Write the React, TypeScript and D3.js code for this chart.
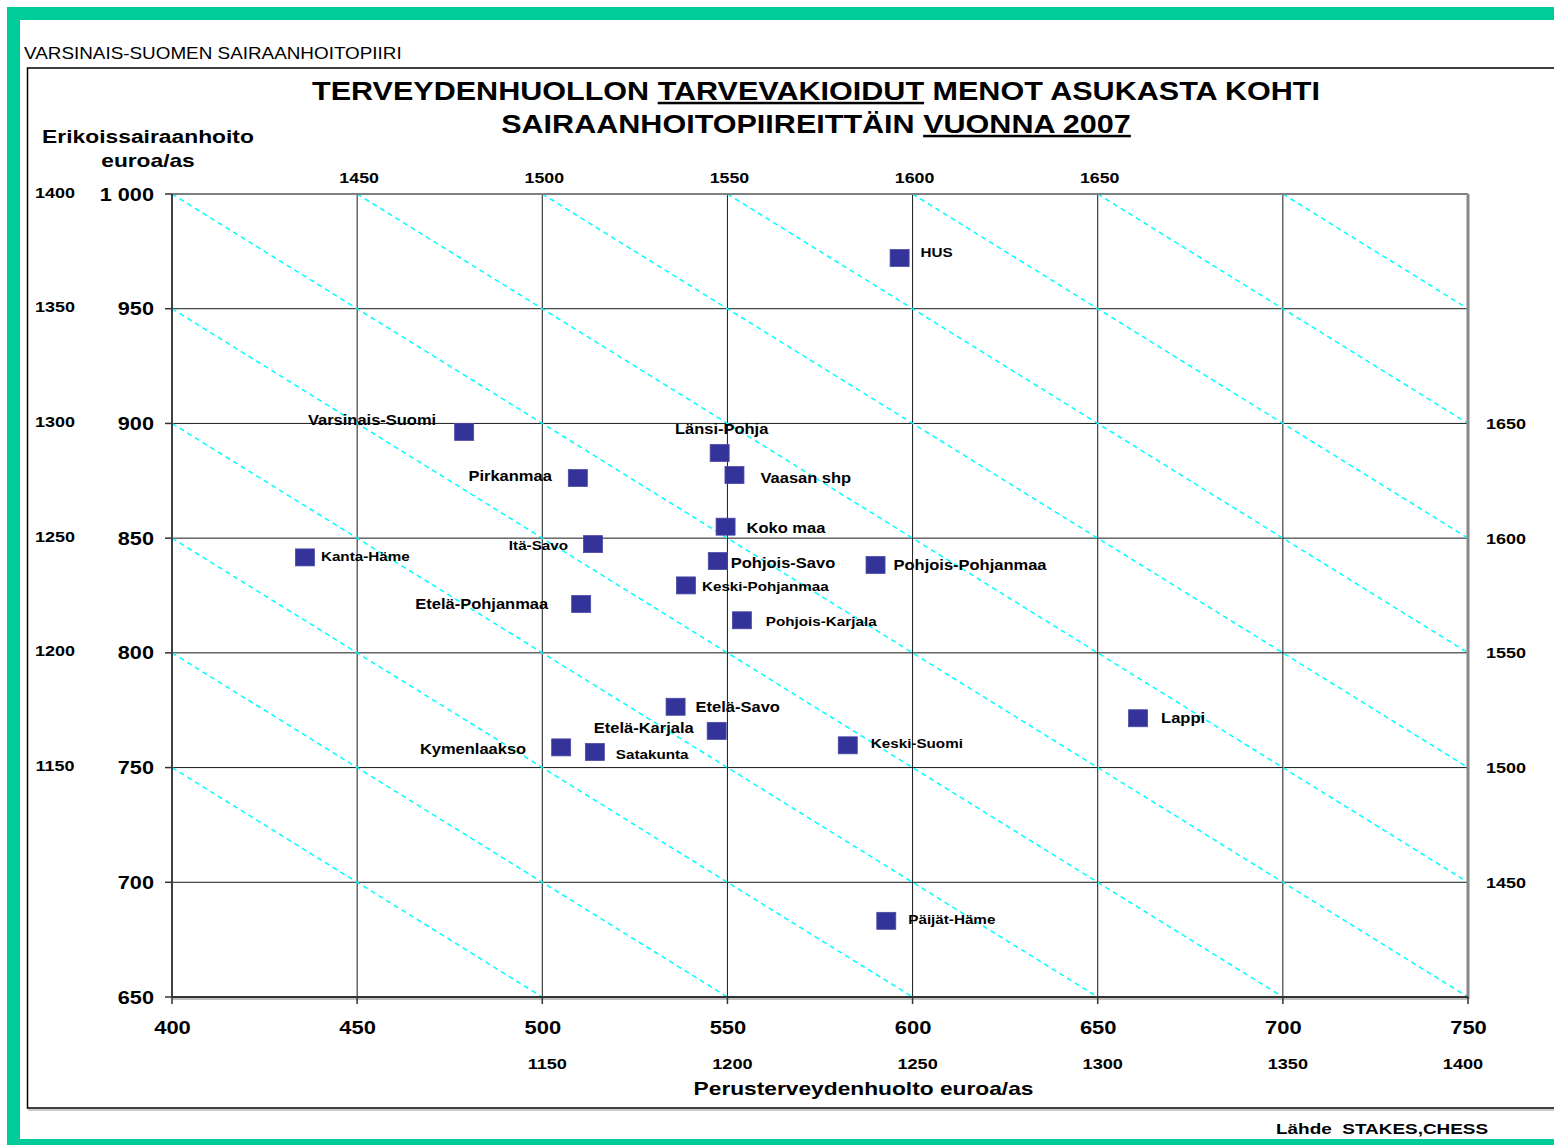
import React from 'react';
import * as d3 from 'd3';

// ---------- data ----------
const districts = [
  'HUS', 'Varsinais-Suomi', 'Länsi-Pohja', 'Pirkanmaa', 'Vaasan shp', 'Koko maa',
  'Itä-Savo', 'Kanta-Häme', 'Pohjois-Savo', 'Pohjois-Pohjanmaa', 'Keski-Pohjanmaa',
  'Etelä-Pohjanmaa', 'Pohjois-Karjala', 'Etelä-Savo', 'Lappi', 'Etelä-Karjala',
  'Keski-Suomi', 'Kymenlaakso', 'Satakunta', 'Päijät-Häme',
];
// Perusterveydenhuolto euroa/as
const perus = [
  596.5, 478.9, 547.9, 509.6, 551.9, 549.5,
  513.7, 435.9, 547.4, 590.0, 538.8,
  510.5, 553.9, 536.0, 660.9, 547.1,
  582.5, 505.1, 514.2, 592.9,
];
// Erikoissairaanhoito euroa/as
const erikois = [
  972.1, 896.3, 887.1, 876.2, 877.5, 855.0,
  847.4, 841.6, 840.0, 838.3, 829.4,
  821.3, 814.2, 776.5, 771.5, 766.0,
  759.7, 758.8, 756.8, 683.2,
];

const xTicks = [400, 450, 500, 550, 600, 650, 700, 750];
const yTicks = [650, 700, 750, 800, 850, 900, 950, 1000];
const totalLines = [1150, 1200, 1250, 1300, 1350, 1400, 1450, 1500, 1550, 1600, 1650, 1700];
const topTotalsAt = [450, 500, 550, 600, 650]; // x positions labelled along top (x + 1000)
const bottomTotalsAt = [500, 550, 600, 650, 700, 750]; // x + 650
const leftTotalsAt = [1000, 950, 900, 850, 800, 750]; // 400 + y
const rightTotalsAt = [900, 850, 800, 750, 700]; // 750 + y

// label layout (offset from marker centre)
const labelLayout = [
  { dx: 21, dy: -1, a: 'start', s: 1 },
  { dx: -28, dy: -7, a: 'end', s: 0 },
  { dx: 2, dy: -19, a: 'middle', s: 0 },
  { dx: -26, dy: 3, a: 'end', s: 0 },
  { dx: 26, dy: 8, a: 'start', s: 0 },
  { dx: 21, dy: 6, a: 'start', s: 0 },
  { dx: -25, dy: 6, a: 'end', s: 1 },
  { dx: 16, dy: 4, a: 'start', s: 1 },
  { dx: 13, dy: 7, a: 'start', s: 0 },
  { dx: 18, dy: 5, a: 'start', s: 0 },
  { dx: 16, dy: 6, a: 'start', s: 1 },
  { dx: -33, dy: 5, a: 'end', s: 0 },
  { dx: 24, dy: 6, a: 'start', s: 1 },
  { dx: 20, dy: 5, a: 'start', s: 0 },
  { dx: 23, dy: 5, a: 'start', s: 0 },
  { dx: -23, dy: 2, a: 'end', s: 0 },
  { dx: 23, dy: 3, a: 'start', s: 1 },
  { dx: -35, dy: 7, a: 'end', s: 0 },
  { dx: 21, dy: 7, a: 'start', s: 1 },
  { dx: 22, dy: 3, a: 'start', s: 1 },
];

const FONT = "'Liberation Sans', Arial, Helvetica, sans-serif";
const GREEN = '#00CC99';
const MARK = '#333399';

const L = 172, R = 1468, TOP = 194, BOT = 997;
const x = d3.scaleLinear().domain([400, 750]).range([L, R]);
const y = d3.scaleLinear().domain([650, 1000]).range([BOT, TOP]);

type TP = {
  x: number; y: number; size: number; sx?: number; anchor?: string;
  weight?: string; children: React.ReactNode; pre?: boolean;
};
const T = ({ x, y, size, sx = 1.2, anchor = 'start', weight = 'bold', children, pre }: TP) => (
  <text
    transform={`translate(${x},${y}) scale(${sx},1)`}
    fontSize={size}
    textAnchor={anchor as any}
    fontWeight={weight}
    fontFamily={FONT}
    fill="#000"
    style={pre ? { whiteSpace: 'pre' } : undefined}
  >
    {children}
  </text>
);

const fmtBig = (v: number) => (v >= 1000 ? d3.format(',')(v).replace(',', ' ') : String(v));

export default function App() {
  const diag = totalLines.map((t) => {
    const x0 = Math.max(400, t - 1000);
    const x1 = Math.min(750, t - 650);
    return { t, x0, y0: t - x0, x1, y1: t - x1 };
  });

  return (
    <svg
      width={1554}
      height={1145}
      style={{ position: 'absolute', left: 0, top: 0, background: '#fff' }}
    >
      <rect x={0} y={0} width={1554} height={1145} fill="#fff" />
      {/* green outer border */}
      <rect x={7} y={7} width={1547} height={13} fill={GREEN} />
      <rect x={7} y={7} width={13} height={1138} fill={GREEN} />
      <rect x={7} y={1139} width={1547} height={6} fill={GREEN} />

      <T x={24} y={59} size={16} sx={1.18} weight="normal">VARSINAIS-SUOMEN SAIRAANHOITOPIIRI</T>

      {/* inner frame */}
      <rect x={27.5} y={68} width={1540} height={1040} fill="none" stroke="#000" strokeWidth={1.5} />
      <line x1={28} x2={1554} y1={1110} y2={1110} stroke="#bbb" strokeWidth={1.5} />

      {/* title */}
      <T x={816} y={100} size={25} sx={1.222} anchor="middle">
        TERVEYDENHUOLLON <tspan textDecoration="underline">TARVEVAKIOIDUT</tspan> MENOT ASUKASTA KOHTI
      </T>
      <T x={816} y={133} size={25} sx={1.222} anchor="middle">
        SAIRAANHOITOPIIREITTÄIN <tspan textDecoration="underline">VUONNA 2007</tspan>
      </T>

      {/* y axis title */}
      <T x={148} y={143} size={18.5} sx={1.235} anchor="middle">Erikoissairaanhoito</T>
      <T x={148} y={167} size={18.5} sx={1.23} anchor="middle">euroa/as</T>

      {/* grid */}
      {xTicks.slice(1, -1).map((v) => (
        <line key={'gx' + v} x1={x(v)} x2={x(v)} y1={TOP} y2={BOT} stroke="#1a1a1a" strokeWidth={1} />
      ))}
      {yTicks.slice(1, -1).map((v) => (
        <line key={'gy' + v} x1={L} x2={R} y1={y(v)} y2={y(v)} stroke="#1a1a1a" strokeWidth={1} />
      ))}

      {/* iso-total diagonals */}
      {diag.map((d) => (
        <line
          key={'d' + d.t}
          x1={x(d.x0)} y1={y(d.y0)} x2={x(d.x1)} y2={y(d.y1)}
          stroke="#00FFFF" strokeWidth={1.5} strokeDasharray="5,4"
        />
      ))}

      {/* plot border & axes */}
      <line x1={L} x2={R} y1={TOP} y2={TOP} stroke="#808080" strokeWidth={2} />
      <line x1={R} x2={R} y1={TOP} y2={BOT + 2} stroke="#888" strokeWidth={3} />
      <line x1={L} x2={L} y1={TOP} y2={BOT} stroke="#404040" strokeWidth={2} />
      <line x1={L} x2={R} y1={BOT + 2} y2={BOT + 2} stroke="#aaa" strokeWidth={1.5} />
      <line x1={L} x2={R} y1={BOT} y2={BOT} stroke="#333" strokeWidth={2} />

      {/* ticks */}
      {yTicks.map((v) => (
        <line key={'ty' + v} x1={L - 7} x2={L} y1={y(v)} y2={y(v)} stroke="#333" strokeWidth={1.5} />
      ))}
      {xTicks.map((v) => (
        <line key={'tx' + v} x1={x(v)} x2={x(v)} y1={BOT} y2={BOT + 7} stroke="#333" strokeWidth={1.5} />
      ))}

      {/* main axis labels */}
      {yTicks.map((v) => (
        <T key={'ly' + v} x={154} y={y(v) + 6.5} size={17.5} sx={1.24} anchor="end">{fmtBig(v)}</T>
      ))}
      {xTicks.map((v) => (
        <T key={'lx' + v} x={x(v) + 0.5} y={1034} size={18} sx={1.22} anchor="middle">{v}</T>
      ))}

      {/* total (iso-line) labels */}
      {topTotalsAt.map((v) => (
        <T key={'tt' + v} x={x(v) + 2} y={183} size={15.2} sx={1.17} anchor="middle">{v + 1000}</T>
      ))}
      {bottomTotalsAt.map((v) => (
        <T key={'bt' + v} x={Math.min(x(v) + 5, 1463)} y={1069} size={15.5} sx={1.17} anchor="middle">{v + 650}</T>
      ))}
      {leftTotalsAt.map((v) => (
        <T key={'lt' + v} x={55} y={y(v) + 3.5} size={15.4} sx={1.17} anchor="middle">{v + 400}</T>
      ))}
      {rightTotalsAt.map((v) => (
        <T key={'rt' + v} x={1506} y={y(v) + 5.5} size={15.4} sx={1.17} anchor="middle">{v + 750}</T>
      ))}

      {/* x axis title */}
      <T x={863.5} y={1095} size={18.5} sx={1.23} anchor="middle">Perusterveydenhuolto euroa/as</T>

      {/* markers */}
      {districts.map((name, i) => (
        <rect
          key={'m' + name}
          x={x(perus[i]) - 9.5}
          y={y(erikois[i]) - 8.5}
          width={19}
          height={17}
          fill={MARK}
          stroke="#4a4aa8"
          strokeWidth={0.8}
        />
      ))}
      {districts.map((name, i) => {
        const lay = labelLayout[i];
        return (
          <T
            key={'t' + name}
            x={x(perus[i]) + lay.dx}
            y={y(erikois[i]) + lay.dy}
            size={lay.s ? 12.8 : 15}
            sx={lay.s ? 1.19 : 1.1}
            anchor={lay.a}
          >
            {name}
          </T>
        );
      })}

      <T x={1276} y={1134} size={15.4} sx={1.23} pre>{'Lähde  STAKES,CHESS'}</T>
    </svg>
  );
}
